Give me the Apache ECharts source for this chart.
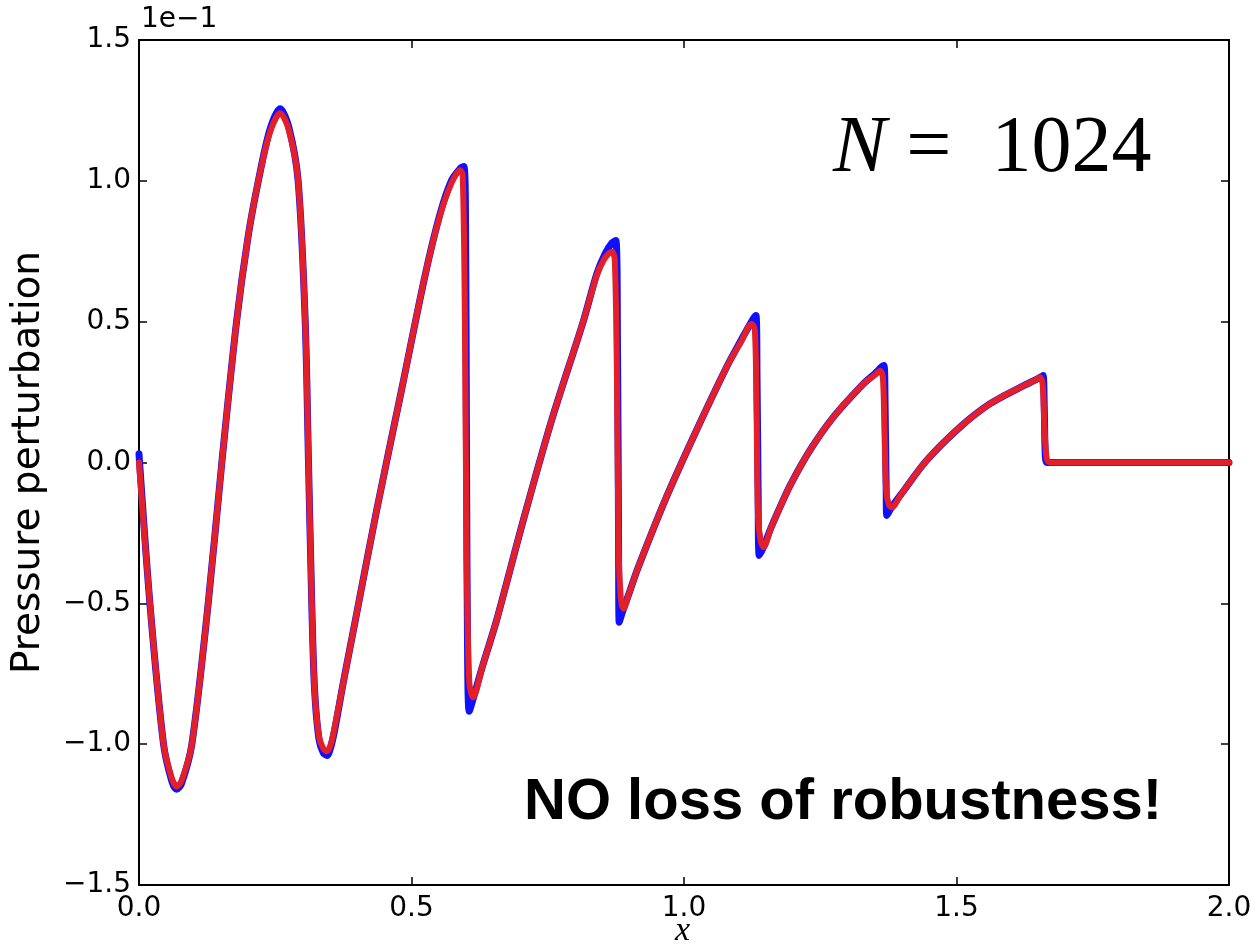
<!DOCTYPE html>
<html>
<head>
<meta charset="utf-8">
<script src="https://cdn.jsdelivr.net/npm/echarts@6/dist/echarts.min.js"></script>
<style>
html,body{margin:0;padding:0;background:#fff;}
#chart{width:1257px;height:947px;}
</style>
</head>
<body>
<div id="chart"></div>
<script>
// Values are in units of 1e-1 (axis multiplier shown top-left)
const xTicks = [0.0, 0.5, 1.0, 1.5, 2.0];
const yTicks = [-1.5, -1.0, -0.5, 0.0, 0.5, 1.0, 1.5];

// Red curve (N = 1024 solution)
const redX = [0, 0.02, 0.045, 0.06, 0.069, 0.078, 0.097, 0.127, 0.152, 0.179, 0.2, 0.219, 0.24, 0.259, 0.275, 0.292, 0.305, 0.311, 0.317, 0.322, 0.33, 0.338, 0.345, 0.352, 0.36, 0.375, 0.396, 0.436, 0.482, 0.525, 0.552, 0.573, 0.589, 0.594, 0.598, 0.601, 0.606, 0.613, 0.63, 0.656, 0.705, 0.757, 0.815, 0.84, 0.853, 0.862, 0.868, 0.873, 0.877, 0.88, 0.884, 0.889, 0.9, 0.916, 0.965, 1.02, 1.078, 1.105, 1.124, 1.13, 1.133, 1.136, 1.141, 1.146, 1.16, 1.177, 1.195, 1.231, 1.274, 1.329, 1.35, 1.36, 1.365, 1.368, 1.371, 1.376, 1.381, 1.399, 1.445, 1.506, 1.561, 1.617, 1.645, 1.653, 1.658, 1.662, 1.666, 1.672, 2.0];
const redY = [0, -0.5, -1.0, -1.12, -1.15, -1.13, -1.0, -0.5, 0, 0.5, 0.8, 1.0, 1.17, 1.24, 1.18, 1.0, 0.5, 0, -0.5, -0.8, -0.97, -1.015, -1.025, -1.0, -0.93, -0.78, -0.57, -0.17, 0.26, 0.665, 0.875, 0.99, 1.038, 1.02, 0.5, -0.3, -0.78, -0.834, -0.725, -0.561, -0.206, 0.149, 0.5, 0.665, 0.72, 0.742, 0.748, 0.72, 0.3, -0.3, -0.48, -0.519, -0.46, -0.372, -0.135, 0.102, 0.338, 0.43, 0.492, 0.47, 0.2, -0.2, -0.28, -0.30, -0.23, -0.155, -0.08, 0.043, 0.161, 0.279, 0.31, 0.326, 0.30, 0.1, -0.1, -0.15, -0.159, -0.111, 0.007, 0.125, 0.208, 0.267, 0.293, 0.303, 0.28, 0.1, 0.01, 0, 0];

// Blue curve (reference solution)
const blueX = [0, 0.02, 0.045, 0.06, 0.069, 0.078, 0.097, 0.127, 0.152, 0.179, 0.2, 0.219, 0.24, 0.259, 0.275, 0.292, 0.305, 0.311, 0.317, 0.322, 0.33, 0.338, 0.345, 0.352, 0.36, 0.375, 0.396, 0.436, 0.482, 0.525, 0.552, 0.573, 0.59, 0.596, 0.599, 0.601, 0.603, 0.606, 0.613, 0.63, 0.656, 0.705, 0.757, 0.815, 0.84, 0.855, 0.868, 0.875, 0.878, 0.88, 0.881, 0.889, 0.9, 0.916, 0.965, 1.02, 1.078, 1.105, 1.127, 1.132, 1.134, 1.136, 1.138, 1.146, 1.16, 1.177, 1.195, 1.231, 1.274, 1.329, 1.35, 1.363, 1.367, 1.369, 1.371, 1.372, 1.381, 1.399, 1.445, 1.506, 1.561, 1.617, 1.645, 1.656, 1.659, 1.661, 1.663, 1.666, 1.672, 2.0];
const blueY = [0.03, -0.5, -1.0, -1.13, -1.16, -1.14, -1.0, -0.5, 0, 0.5, 0.8, 1.0, 1.18, 1.256, 1.19, 1.0, 0.5, 0, -0.5, -0.8, -0.98, -1.03, -1.04, -1.01, -0.94, -0.78, -0.57, -0.17, 0.26, 0.665, 0.88, 1.0, 1.045, 1.051, 0.9, 0.0, -0.7, -0.883, -0.84, -0.725, -0.561, -0.206, 0.149, 0.5, 0.67, 0.74, 0.78, 0.788, 0.4, -0.3, -0.567, -0.52, -0.46, -0.372, -0.135, 0.102, 0.338, 0.435, 0.51, 0.522, 0.3, -0.1, -0.33, -0.30, -0.23, -0.155, -0.08, 0.043, 0.161, 0.279, 0.315, 0.34, 0.344, 0.2, -0.1, -0.188, -0.159, -0.111, 0.007, 0.125, 0.208, 0.267, 0.293, 0.305, 0.309, 0.2, 0.02, 0, 0, 0];

const redData = redX.map((x, i) => [x, redY[i]]);
const blueData = blueX.map((x, i) => [x, blueY[i]]);

function fmt(v) {
  return v.toFixed(1).replace('-', '\u2212');
}

const chart = echarts.init(document.getElementById('chart'), null, {renderer: 'canvas'});

const tickFont = {fontFamily: 'DejaVu Sans', fontSize: 28, color: '#000'};
const lineStyleAxis = {show: true, onZero: false, lineStyle: {color: '#000', width: 2}};
const tickStyle = {show: true, inside: true, length: 8, lineStyle: {color: '#000', width: 1.5}};

chart.setOption({
  animation: false,
  backgroundColor: '#fff',
  grid: {left: 139, right: 28, top: 40, bottom: 62, containLabel: false, outerBoundsMode: 'none'},
  xAxis: [
    {
      type: 'value', min: 0, max: 2, interval: 0.5, position: 'bottom',
      axisLine: lineStyleAxis, axisTick: tickStyle, splitLine: {show: false},
      axisLabel: Object.assign({margin: 10, formatter: fmt}, tickFont)
    },
    {
      type: 'value', min: 0, max: 2, interval: 0.5, position: 'top',
      axisLine: lineStyleAxis, axisTick: tickStyle, splitLine: {show: false},
      axisLabel: {show: false}
    }
  ],
  yAxis: [
    {
      type: 'value', min: -1.5, max: 1.5, interval: 0.5, position: 'left',
      axisLine: lineStyleAxis, axisTick: tickStyle, splitLine: {show: false},
      axisLabel: Object.assign({margin: 8, formatter: fmt}, tickFont),
      name: 'Pressure perturbation', nameLocation: 'middle', nameGap: 91,
      nameTextStyle: {fontFamily: 'DejaVu Sans', fontSize: 39, color: '#000'}
    },
    {
      type: 'value', min: -1.5, max: 1.5, interval: 0.5, position: 'right',
      axisLine: lineStyleAxis, axisTick: tickStyle, splitLine: {show: false},
      axisLabel: {show: false}
    }
  ],
  series: [
    {
      type: 'line', data: blueData, xAxisIndex: 0, yAxisIndex: 0,
      showSymbol: false, smooth: 0.3,
      lineStyle: {color: '#1010ff', width: 7, join: 'round', cap: 'round'}, z: 2
    },
    {
      type: 'line', data: redData, xAxisIndex: 0, yAxisIndex: 0,
      showSymbol: false, smooth: 0.3,
      lineStyle: {color: '#e3202a', width: 6, join: 'round', cap: 'round'}, z: 3
    }
  ],
  graphic: [
    {
      type: 'text', left: 141, top: 6,
      style: {text: '1e\u22121', fontFamily: 'DejaVu Sans', fontSize: 28, fill: '#000'}
    },
    {
      type: 'text', left: 833, top: 110,
      style: {
        text: '{n|N}{r| =  1024}',
        rich: {
          n: {fontFamily: 'Liberation Serif', fontStyle: 'italic', fontSize: 80, fill: '#000'},
          r: {fontFamily: 'Liberation Serif', fontSize: 80, fill: '#000'}
        }
      }
    },
    {
      type: 'text', left: 524, top: 774,
      style: {text: 'NO loss of robustness!', fontFamily: 'Liberation Sans', fontWeight: 'bold', fontSize: 58, fill: '#000'}
    },
    {
      type: 'text', left: 675, top: 914,
      style: {text: 'x', fontFamily: 'Liberation Serif', fontStyle: 'italic', fontSize: 34, fill: '#000'}
    }
  ]
});
</script>
</body>
</html>
